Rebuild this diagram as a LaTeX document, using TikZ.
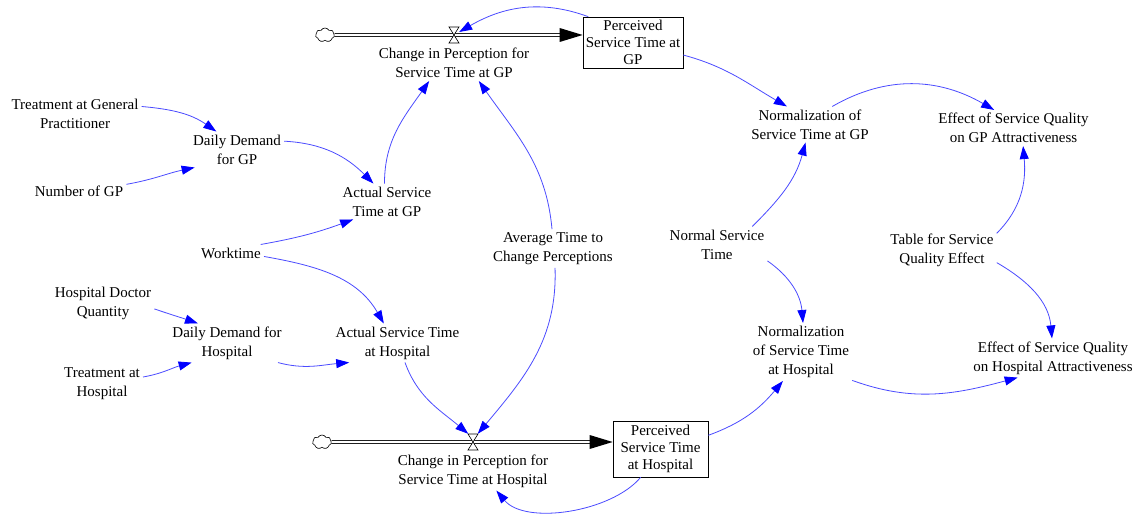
\documentclass[tikz,border=0pt]{standalone}
\usepackage{fontspec}
\setmainfont{Liberation Serif}
\usetikzlibrary{arrows.meta,shapes.symbols}
\definecolor{linkblue}{RGB}{75,75,255}
\definecolor{tipblue}{RGB}{0,0,255}
\begin{document}
\begin{tikzpicture}[x=1pt,y=1pt,
  lbl/.style={align=center,inner sep=3pt,font=\fontsize{15}{19}\selectfont},
  stockbox/.style={draw,line width=0.7pt,align=center,inner sep=0pt,font=\fontsize{15}{17}\selectfont},
  link/.style={draw=linkblue,line width=0.8pt,-{Triangle[length=13pt,width=9pt,color=tipblue]}},
  pipe/.style={draw=black,line width=0.7pt,double=white,double distance=2.4pt},
  sourcecloud/.style={cloud,draw,fill=white,cloud puffs=7,cloud puff arc=120,aspect=1.4,
    minimum width=19pt,minimum height=14pt,inner sep=0pt,line width=0.6pt},
  valvebox/.style={inner sep=0pt,minimum width=10pt,minimum height=16pt},
  valve/.pic={\draw[fill=white,line width=0.6pt] (-5,8) -- (5,8) -- (-5,-8) -- (5,-8) -- cycle;}
]
\useasboundingbox (0,0) rectangle (1143,-518);

% ---- stocks ----
\node[stockbox,minimum width=100pt,minimum height=51pt] (sgp) at (633,-42.5)
  {Perceived\\Service Time at\\GP};
\node[stockbox,minimum width=95pt,minimum height=56pt] (sh) at (660.5,-449)
  {Perceived\\Service Time\\at Hospital};

% ---- sources and valves ----
\node[sourcecloud] (cloudgp) at (325,-35) {};
\node[sourcecloud] (cloudh) at (322,-442) {};
\node[valvebox] (vgp) at (454,-35) {};
\node[valvebox] (vh) at (473,-442) {};
\coordinate (gpin) at (sgp.west |- cloudgp);
\coordinate (hin) at (sh.west |- cloudh);

% ---- flow pipes ----
\draw[pipe] (cloudgp.east) -- ([xshift=-21pt]gpin);
\fill (gpin) -- ++(-23,7) -- ++(0,-14) -- cycle;
\draw[pipe] (cloudh.east) -- ([xshift=-21pt]hin);
\fill (hin) -- ++(-23,7) -- ++(0,-14) -- cycle;
\pic at (vgp) {valve};
\pic at (vh) {valve};

% ---- auxiliaries ----
\node[lbl] (cgp) at (454,-63) {Change in Perception for\\Service Time at GP};
\node[lbl] (ch) at (473,-471) {Change in Perception for\\Service Time at Hospital};
\node[lbl] (trt) at (75,-113.5) {Treatment at General\\Practitioner};
\node[lbl] (ddgp) at (237,-149.5) {Daily Demand\\for GP};
\node[lbl] (nogp) at (79,-191) {Number of GP};
\node[lbl] (agp) at (387,-201.5) {Actual Service\\Time at GP};
\node[lbl] (wt) at (231,-253) {Worktime};
\node[lbl] (hdq) at (103,-303.5) {Hospital Doctor\\Quantity};
\node[lbl] (ddh) at (227,-343) {Daily Demand for\\Hospital};
\node[lbl] (tah) at (102,-383.5) {Treatment at\\Hospital};
\node[lbl] (ah) at (397.5,-343) {Actual Service Time\\at Hospital};
\node[lbl] (avg) at (553,-248.5) {Average Time to\\Change Perceptions};
\node[lbl] (ngp) at (810,-124.5) {Normalization of\\Service Time at GP};
\node[lbl] (egp) at (1013.5,-128) {Effect of Service Quality\\on GP Attractiveness};
\node[lbl] (nst) at (717,-244.5) {Normal Service\\Time};
\node[lbl] (tbl) at (942,-250) {Table for Service\\Quality Effect};
\node[lbl] (nh) at (801,-352) {Normalization\\of Service Time\\at Hospital};
\node[lbl] (eh) at (1053,-358) {Effect of Service Quality\\on Hospital Attractiveness};

% ---- causal links ----
\draw[link] (trt.6) to[out=-5,in=145] (ddgp.139);
\draw[link] (nogp.8) to[out=10,in=192] (ddgp.203);
\draw[link] (ddgp.10) to[out=-3,in=135] (agp.127);
\draw[link] (agp.98) to[out=90,in=235] (cgp.216);
\draw[link] (avg.93) to[out=95,in=-55] (cgp.-36);
\draw[link] (avg.-84) to[out=-88,in=50] (vh.60);
\draw[link] (wt.16) to[out=10,in=200] (agp.208);
\draw[link] (wt.-6) to[out=-10,in=120] (ah.125);
\draw[link] (hdq.-6) to[out=-19,in=161] (ddh.146);
\draw[link] (tah.9) to[out=10,in=195] (ddh.209);
\draw[link] (ddh.-21) to[out=-15,in=185] (ah.202);
\draw[link] (ah.-69) to[out=-70,in=140] (vh.120);
\draw[link] (sh.235) to[out=-130,in=-50,looseness=0.8] (ch.-40);
\draw[link] (sh.16) to[out=20,in=230] (nh.238);
\draw[link] (sgp.-14) to[out=-15,in=150] (ngp.142);
\draw[link] (ngp.39) to[out=30,in=150] (egp.137);
\draw[link] (nst.27) to[out=45,in=255] (ngp.256);
\draw[link] (nst.-18) to[out=-35,in=95] (nh.86);
\draw[link] (tbl.17) to[out=45,in=-85] (egp.-62);
\draw[link] (tbl.-13) to[out=-30,in=95] (eh.93);
\draw[link] (nh.-29) to[out=-20,in=195] (eh.209);
\draw[link] (sgp.150) to[out=160,in=30] (vgp.30);
\end{tikzpicture}
\end{document}
